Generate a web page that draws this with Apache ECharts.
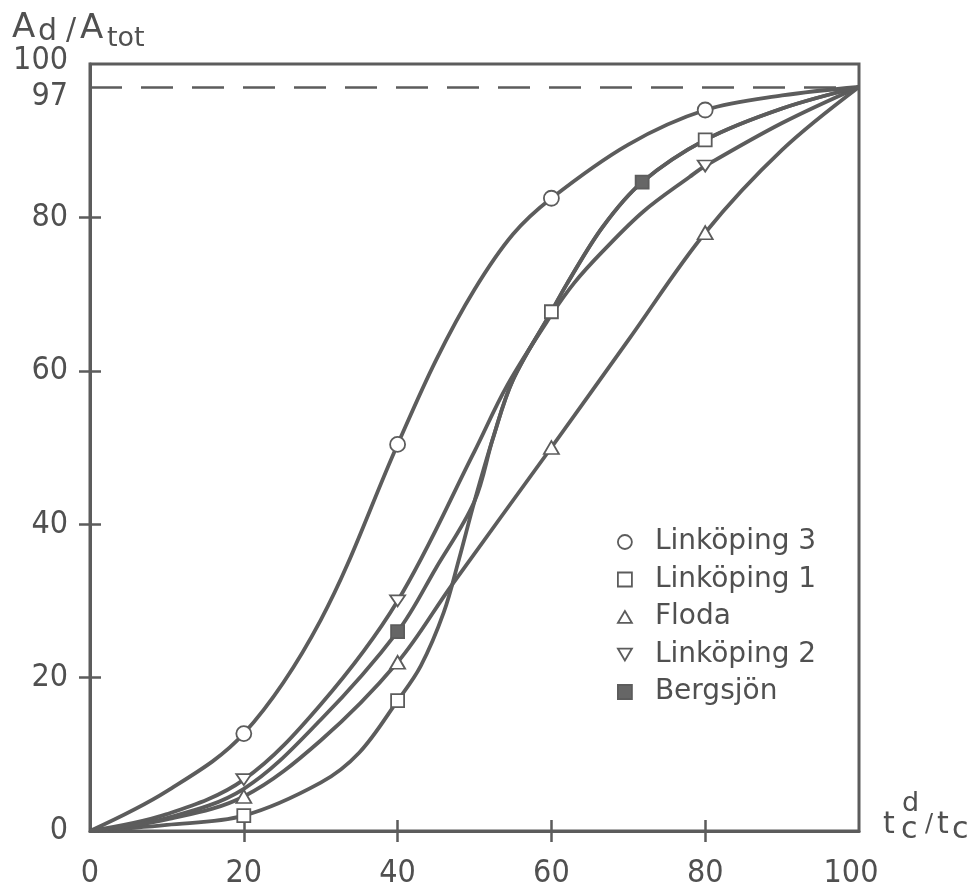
<!DOCTYPE html>
<html>
<head>
<meta charset="utf-8">
<script src="https://cdn.jsdelivr.net/npm/echarts@6/dist/echarts.min.js"></script>
<style>
  html, body { margin: 0; padding: 0; background: #fff; }
  #chart { width: 977px; height: 890px; }
</style>
</head>
<body>
<div id="chart"></div>
<script>
// ---- data ----
const seriesNames = ['Linköping 3', 'Linköping 1', 'Floda', 'Linköping 2', 'Bergsjön'];

// curve points [x, y] (x = tcd/tc %, y = Ad/Atot %)
const linkoping3 = [[0,0],[10,5.2],[20,12.7],[30,27.5],[40,50.4],[45,61.4],[50,70.6],[55,77.8],[60,82.5],[70,89.5],[80,94],[90,95.9],[100,97]];
const linkoping1 = [[0,0],[10,0.8],[20,2],[30,6.3],[35,10.2],[40,17],[43,21.5],[46,28.5],[48,35.5],[50,43],[52.4,51.2],[55,58.8],[60,67.7],[62,71.3],[66.7,78.8],[71.8,84.6],[80,90.1],[90,94.2],[100,97]];
const floda      = [[0,0],[10,1.5],[20,4.5],[30,11.8],[40,22],[47,32],[60,50],[70,64],[80,78],[90,88.8],[100,97]];
const linkoping2 = [[0,0],[10,2.2],[20,6.7],[30,16.5],[40,30],[50,49.5],[54.2,58],[60,67.3],[63,71.5],[66.7,75.6],[72,80.8],[78,85.3],[80,86.7],[90,92.3],[100,97]];
const bergsjon   = [[0,0],[10,1.7],[20,5.5],[30,14.5],[40,26],[45,34.3],[50,43],[52.4,51.2],[55,58.8],[60,67.7],[62,71.3],[66.7,78.8],[71.8,84.6],[80,90.1],[90,94.2],[100,97]];

// x positions carrying a marker
const markers3 = [20, 40, 60, 80];
const markers1 = [20, 40, 60, 80];
const markersF = [20, 40, 60, 80];
const markers2 = [20, 40, 80];
const markersB = [40, 71.8];

const limitLevel = 97;
const xTickValues = [20, 40, 60, 80];
const xLabelValues = [0, 20, 40, 60, 80, 100];
const yTickValues = [20, 40, 60, 80];
const yLabelValues = [0, 20, 40, 60, 80, 97, 100];

// ---- styling ----
const C = '#5c5c5c';
const TXT = '#505050';
const NUMFONT = "'DejaVu Sans Condensed', 'Liberation Sans Narrow', 'DejaVu Sans', sans-serif";
const FONT = "'DejaVu Sans', sans-serif";
const DOWN_TRI = 'path://M0,0L20,0L10,17Z';

const curves = [linkoping3, linkoping1, floda, linkoping2, bergsjon];
const marks = [markers3, markers1, markersF, markers2, markersB];
const symbols = ['circle', 'rect', 'triangle', DOWN_TRI, 'rect'];
const symSizes = [15, 13, [15, 13], [15, 13], 13];
const fills = ['#ffffff', '#ffffff', '#ffffff', '#ffffff', '#666666'];

const chart = echarts.init(document.getElementById('chart'), null, { renderer: 'canvas' });

const series = [];
curves.forEach((pts, i) => {
  const s = {
    name: seriesNames[i],
    type: 'line',
    data: pts,
    smooth: 0.35,
    showSymbol: false,
    symbol: 'none',
    z: 2,
    lineStyle: { color: C, width: 3.8 },
    itemStyle: { color: C },
    emphasis: { disabled: true },
    silent: true
  };
  if (i === 0) {
    s.markLine = {
      silent: true,
      symbol: ['none', 'none'],
      label: { show: false },
      lineStyle: { color: C, width: 2.5, type: [32, 19] },
      data: [{ yAxis: limitLevel }]
    };
  }
  series.push(s);
});
curves.forEach((pts, i) => {
  series.push({
    name: seriesNames[i],
    type: 'scatter',
    data: pts.filter(p => marks[i].indexOf(p[0]) >= 0),
    symbol: symbols[i],
    symbolSize: symSizes[i],
    symbolKeepAspect: true,
    z: 5,
    itemStyle: { color: fills[i], borderColor: C, borderWidth: 1.8, opacity: 1 },
    emphasis: { disabled: true },
    silent: true
  });
});

const numLabel = { fontSize: 32, fontFamily: NUMFONT, color: TXT };

const option = {
  animation: false,
  backgroundColor: '#ffffff',
  grid: { left: 90, right: 118, top: 64, bottom: 56, show: true, borderColor: C, borderWidth: 3 },
  xAxis: [
    {
      type: 'value', min: 0, max: 100, interval: 20,
      axisLine: { show: true, lineStyle: { color: C, width: 3 } },
      axisTick: { show: true, customValues: xTickValues, length: 11, lineStyle: { color: C, width: 2.5 } },
      axisLabel: Object.assign({
        customValues: xLabelValues, margin: 27, showMinLabel: true, showMaxLabel: true,
        formatter: v => v === 100 ? '{r|100}' : String(v),
        rich: { r: { fontSize: 32, fontFamily: NUMFONT, color: TXT, padding: [0, 16, 0, 0] } }
      }, numLabel),
      splitLine: { show: false }
    },
    {
      type: 'value', min: 0, max: 100, interval: 20, position: 'bottom',
      axisLine: { show: false },
      axisTick: { show: true, inside: true, customValues: xTickValues, length: 11, lineStyle: { color: C, width: 2.5 } },
      axisLabel: { show: false },
      splitLine: { show: false }
    }
  ],
  yAxis: [
    {
      type: 'value', min: 0, max: 100, interval: 20,
      axisLine: { show: true, lineStyle: { color: C, width: 3 } },
      axisTick: { show: true, customValues: yTickValues, length: 11, lineStyle: { color: C, width: 2.5 } },
      axisLabel: Object.assign({
        customValues: yLabelValues, margin: 22, showMinLabel: true, showMaxLabel: true, hideOverlap: false,
        formatter: v => v === 100 ? '{up|100}' : (v === 97 ? '{dn|97}' : String(v)),
        rich: {
          up: { fontSize: 32, fontFamily: NUMFONT, color: TXT, padding: [0, 0, 6, 0] },
          dn: { fontSize: 32, fontFamily: NUMFONT, color: TXT, padding: [20, 0, 0, 0] }
        }
      }, numLabel),
      splitLine: { show: false }
    },
    {
      type: 'value', min: 0, max: 100, interval: 20, position: 'left',
      axisLine: { show: false },
      axisTick: { show: true, inside: true, customValues: yTickValues, length: 11, lineStyle: { color: C, width: 2.5 } },
      axisLabel: { show: false },
      splitLine: { show: false }
    }
  ],
  legend: {
    orient: 'vertical',
    left: 612,
    top: 522,
    itemWidth: 14,
    itemHeight: 14,
    itemGap: 7.5,
    selectedMode: false,
    textStyle: { fontSize: 28, fontFamily: FONT, color: TXT, lineHeight: 30, padding: [0, 0, 0, 18] },
    data: seriesNames.map((n, i) => ({
      name: n,
      icon: i === 3 ? DOWN_TRI : (i === 2 ? 'path://M10,0L20,17L0,17Z' : symbols[i]),
      itemStyle: { color: fills[i], borderColor: C, borderWidth: 1.8 }
    }))
  },
  graphic: [
    // y-axis title  A_d / A_tot
    { type: 'text', silent: true, style: { text: 'A', x: 12, y: 28, font: "34px 'DejaVu Sans'", fill: TXT, align: 'left', verticalAlign: 'middle' } },
    { type: 'text', silent: true, style: { text: 'd', x: 38, y: 32, font: "30px 'DejaVu Sans'", fill: TXT, align: 'left', verticalAlign: 'middle' } },
    { type: 'text', silent: true, style: { text: '/', x: 66, y: 31, font: "30px 'DejaVu Sans'", fill: TXT, align: 'left', verticalAlign: 'middle' } },
    { type: 'text', silent: true, style: { text: 'A', x: 80, y: 29, font: "34px 'DejaVu Sans'", fill: TXT, align: 'left', verticalAlign: 'middle' } },
    { type: 'text', silent: true, style: { text: 'tot', x: 107, y: 39, font: "27px 'DejaVu Sans'", fill: TXT, align: 'left', verticalAlign: 'middle' } },
    // x-axis title  t_c^d / t_c
    { type: 'text', silent: true, style: { text: 't', x: 883, y: 825, font: "30px 'DejaVu Sans'", fill: TXT, align: 'left', verticalAlign: 'middle' } },
    { type: 'text', silent: true, style: { text: 'd', x: 902, y: 804, font: "27px 'DejaVu Sans'", fill: TXT, align: 'left', verticalAlign: 'middle' } },
    { type: 'text', silent: true, style: { text: 'c', x: 901, y: 830, font: "30px 'DejaVu Sans'", fill: TXT, align: 'left', verticalAlign: 'middle' } },
    { type: 'text', silent: true, style: { text: '/', x: 925, y: 825, font: "24px 'DejaVu Sans'", fill: TXT, align: 'left', verticalAlign: 'middle' } },
    { type: 'text', silent: true, style: { text: 't', x: 937, y: 825, font: "30px 'DejaVu Sans'", fill: TXT, align: 'left', verticalAlign: 'middle' } },
    { type: 'text', silent: true, style: { text: 'c', x: 952, y: 830, font: "30px 'DejaVu Sans'", fill: TXT, align: 'left', verticalAlign: 'middle' } }
  ],
  series: series
};

chart.setOption(option);
</script>
</body>
</html>
